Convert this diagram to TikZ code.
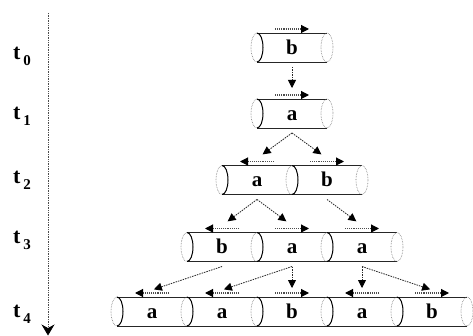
\documentclass[tikz,border=0pt]{standalone}
\usepackage{fontspec}
\setmainfont{Liberation Serif}
\usetikzlibrary{arrows.meta}

\tikzset{
  tube/.style={line width=0.8pt, black!85},
  capback/.style={densely dotted, line width=0.6pt, black!55},
  capfront/.style={line width=1pt, black},
  orient/.style={densely dotted, line width=1.1pt, black!70,
    -{Triangle[width=8pt,length=8pt,color=black,fill=black]}},
  link/.style={dash pattern=on 1.5pt off 1pt, line width=0.8pt, black!85,
    -{Triangle[width=8pt,length=8pt,color=black,fill=black]}},
  axisline/.style={densely dotted, line width=0.7pt, black!70,
    -{Stealth[width=13pt,length=11pt,color=black,fill=black]}},
  seglabel/.style={font=\bfseries\fontsize{21}{21}\selectfont, inner sep=0pt,
    text height=14pt, text depth=0pt},
  timelabel/.style={font=\bfseries\fontsize{22}{22}\selectfont, inner sep=0pt},
}

% time label: t with a lowered index
\newcommand\tlab[1]{t\kern3pt\raisebox{-6pt}{\fontsize{15}{15}\selectfont #1}}

% a row of joined tube segments: #1 centre y, #2 left end x, #3 number of segments
\newcommand\tuberow[3]{%
  \pgfmathsetmacro\rowright{#2+70*#3}
  \draw[tube] (#2,#1-14.5) -- (\rowright,#1-14.5)
              (#2,#1+14.5) -- (\rowright,#1+14.5);
  \foreach \k in {1,...,#3}{%
    \pgfmathsetmacro\capx{#2+70*(\k-1)}
    \draw[capback] (\capx,#1-14.5) arc[start angle=-90,end angle=-270,x radius=6,y radius=14.5];
    \draw[capfront] (\capx,#1-14.5) arc[start angle=-90,end angle=90,x radius=6,y radius=14.5];
  }
  \draw[capback] (\rowright,#1) ellipse[x radius=6,y radius=14.5];
}

% one segment: #1 name, #2 centre x, #3 centre y, #4 letter, #5 direction (1 or -1)
\newcommand\seg[5]{%
  \pgfmathsetmacro\tailx{#2-17*#5}
  \pgfmathsetmacro\headx{#2+17*#5}
  \node[seglabel] (#1) at (#2,#3) {#4};
  \coordinate (#1-in)   at (#2,#3-21.5);
  \coordinate (#1-out)  at (#2,#3+19.5);
  \coordinate (#1-tail) at (\tailx,#3-18.5);
  \coordinate (#1-head) at (\headx,#3-18.5);
  \draw[orient] (#1-tail) -- (#1-head);
}

\begin{document}
\begin{tikzpicture}[x=1pt,y=-1pt]
\useasboundingbox[fill=white] (0,0) rectangle (473,336);

% time axis
\coordinate (axtop) at (48,13);
\coordinate (axend) at (48,335.5);
\draw[axisline] (axtop) -- (axend);
\node[timelabel] (t0) at (22,56)  {\tlab{0}};
\node[timelabel] (t1) at (22,116) {\tlab{1}};
\node[timelabel] (t2) at (22,180) {\tlab{2}};
\node[timelabel] (t3) at (22,240) {\tlab{3}};
\node[timelabel] (t4) at (22,314) {\tlab{4}};

% tubes
\tuberow{47.5}{257}{1}
\tuberow{113.5}{257}{1}
\tuberow{180}{222}{2}
\tuberow{247}{187}{3}
\tuberow{311.5}{117}{5}

% segments
\seg{ra}{292}{47.5}{b}{1}
\seg{rb}{292}{113.5}{a}{1}
\seg{rca}{257}{180}{a}{-1}
\seg{rcb}{327}{180}{b}{1}
\seg{rda}{222}{247}{b}{-1}
\seg{rdb}{292}{247}{a}{1}
\seg{rdc}{362}{247}{a}{1}
\seg{rea}{152}{311.5}{a}{-1}
\seg{reb}{222}{311.5}{a}{-1}
\seg{rec}{292}{311.5}{b}{1}
\seg{red}{362}{311.5}{a}{-1}
\seg{ree}{432}{311.5}{b}{1}

% descent links
\draw[link, shorten >=4pt] (ra-out) -- (rb-in);
\draw[link, shorten >=7pt] (rb-out) -- (rca-in);
\draw[link, shorten >=7pt] (rb-out) -- (rcb-in);
\draw[link, shorten >=7pt] (rca-out) -- (rda-in);
\draw[link, shorten >=7pt] (rca-out) -- (rdb-in);
\draw[link, shorten >=7pt] (rcb-out) -- (rdc-in);
\draw[link, shorten >=2pt] (rda-out) -- (rea-in);
\draw[link, shorten >=2pt] (rdb-out) -- (reb-in);
\draw[link, shorten >=2pt] (rdb-out) -- (rec-in);
\draw[link, shorten >=2pt] (rdc-out) -- (red-in);
\draw[link, shorten >=2pt] (rdc-out) -- (ree-in);
\end{tikzpicture}
\end{document}
